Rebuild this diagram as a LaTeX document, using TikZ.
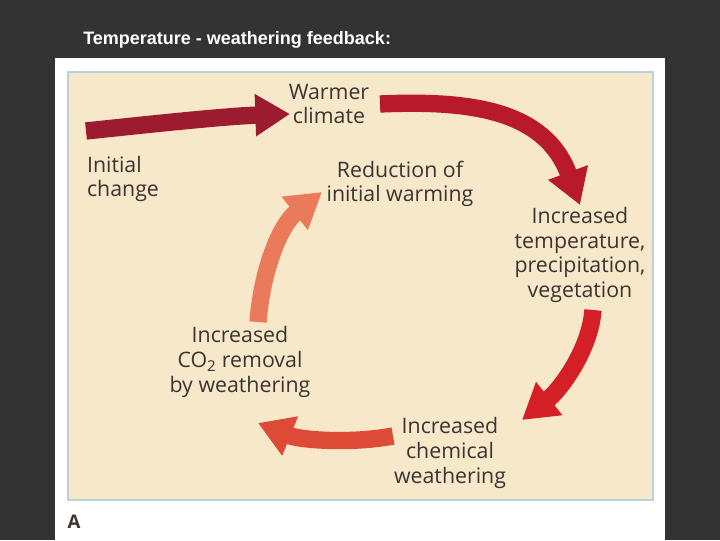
\documentclass[tikz,border=0pt]{standalone}
\usepackage{fontspec}
\setmainfont{Open Sans}
\newfontfamily\titlefont{Liberation Sans}
\usetikzlibrary{arrows.meta}
\definecolor{bg}{HTML}{333333}
\definecolor{beige}{HTML}{F6E8C9}
\definecolor{bord}{HTML}{B9D3DC}
\definecolor{txt}{HTML}{3B3431}
\definecolor{ca}{HTML}{9C1B2E}
\definecolor{cb}{HTML}{B81A2C}
\definecolor{cc}{HTML}{D51F26}
\definecolor{cd}{HTML}{DD4A35}
\definecolor{ce}{HTML}{EB7A5A}
\tikzset{
  lab/.style={text=txt,font=\fontsize{16}{18.5}\selectfont,align=center,inner sep=0},
  arr/.style={line width=13pt,-{Triangle[width=30pt,length=26pt]}}
}
\begin{document}
\begin{tikzpicture}[x=0.75pt,y=-0.75pt]
\fill[bg] (0,0) rectangle (720,540);
\useasboundingbox (0,0) rectangle (720,540);
\node[text=white,anchor=west,inner sep=0,font=\titlefont\bfseries\fontsize{13.5}{15}\selectfont] (title) at (83,40) {Temperature - weathering feedback:};
\fill[white] (55,58) rectangle (665,540);
\draw[bord,fill=beige,line width=1.2pt] (68,72) rectangle (653,500);
\node[text=txt,font=\bfseries\fontsize{14}{15}\selectfont] (a) at (74,522) {A};
\node[lab] (warm) at (329,104) {Warmer\\climate};
\node[lab,align=left] (init) at (123,179) {Initial\\change};
\node[lab] (red) at (400,184) {Reduction of\\initial warming};
\node[lab] (temp) at (580,255) {Increased\\temperature,\\precipitation,\\vegetation};
\node[lab] (chem) at (450,453) {Increased\\chemical\\weathering};
\node[lab] (co2) at (240,362) {Increased\\CO\textsubscript{2} removal\\by weathering};
\coordinate (a1s) at (86,131);
\coordinate (a1e) at (290,114);
\coordinate (a2s) at (380,104);
\coordinate (a2e) at (580,205);
\coordinate (a3s) at (593,310);
\coordinate (a3e) at (522,420);
\coordinate (a4s) at (393,436);
\coordinate (a4e) at (258,423);
\coordinate (a5s) at (258,322);
\coordinate (a5e) at (322,192);
\draw[arr,ca] (a1s) .. controls (170,122) and (230,116) .. (a1e);
\draw[arr,cb] (a2s) .. controls (470,100) and (545,110) .. (a2e);
\draw[arr,cc] (a3s) .. controls (590,350) and (560,390) .. (a3e);
\draw[arr,cd] (a4s) .. controls (350,444) and (300,440) .. (a4e);
\draw[arr,ce] (a5s) .. controls (262,270) and (280,225) .. (a5e);
\end{tikzpicture}
\end{document}
